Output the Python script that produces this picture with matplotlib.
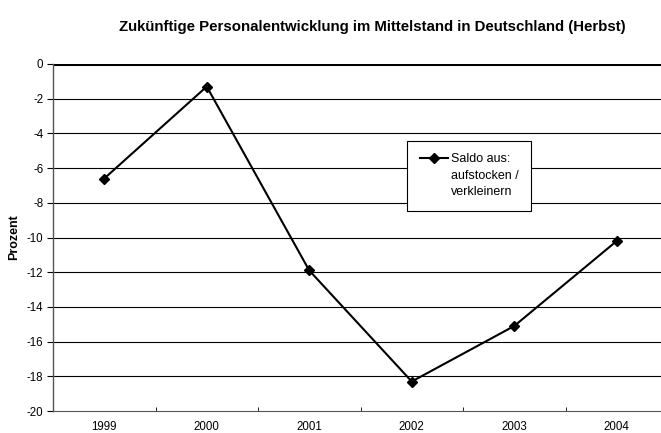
import matplotlib
matplotlib.use("Agg")
import matplotlib.pyplot as plt
from matplotlib.lines import Line2D

plt.rcParams["font.family"] = ["Liberation Sans", "DejaVu Sans"]

years = ["1999", "2000", "2001", "2002", "2003", "2004"]
saldo = [-6.6, -1.3, -11.9, -18.3, -15.1, -10.2]
yticks = list(range(0, -21, -2))
legend_lines = ["Saldo aus:", "aufstocken /", "verkleinern"]

fig = plt.figure(figsize=(6.61, 4.33), dpi=100)
ax = fig.add_axes([53 / 661, 22 / 433, 615 / 661, 347 / 433])

x = list(range(len(years)))
line, = ax.plot(x, saldo, color="black", lw=1.5, marker="D", ms=5, zorder=3)

ax.set_xlim(-0.5, len(years) - 0.5)
ax.set_ylim(-20, 0)
ax.set_yticks(yticks)
ax.set_yticklabels([str(v) for v in yticks])
for v in yticks:
    if v not in (0, -20):
        ax.axhline(v, color="black", lw=0.8, zorder=1)
ax.axhline(0, color="black", lw=2.2, zorder=2)

ax.set_xticks(x)
ax.set_xticklabels(years)
ax.set_xticks([i + 0.5 for i in x[:-1]], minor=True)
ax.tick_params(axis="x", which="major", length=0, pad=7, labelsize=8.3)
ax.tick_params(axis="x", which="minor", direction="in", length=3, color="black")
ax.tick_params(axis="y", direction="out", length=4, labelsize=8.3, pad=3)

for s in ["top", "right"]:
    ax.spines[s].set_visible(False)
ax.spines["left"].set_color("#555555")
ax.spines["bottom"].set_color("#555555")
ax.spines["left"].set_linewidth(1.0)

ax.set_ylabel("Prozent", fontsize=9, fontweight="bold", labelpad=5)

fig.text(0.564, 0.937, "Zukünftige Personalentwicklung im Mittelstand in Deutschland (Herbst)",
         ha="center", va="center", fontsize=10.8, fontweight="bold")

blank = Line2D([], [], color="none")
leg = ax.legend([line, blank, blank], legend_lines, loc="upper left",
                bbox_to_anchor=((407 - 53) / 615, (411 - 141) / 347),
                fontsize=9, frameon=True, fancybox=False, edgecolor="black",
                framealpha=1, handlelength=2.3, borderpad=1.0, handletextpad=0.2,
                labelspacing=0.35, borderaxespad=0)
leg.get_frame().set_linewidth(0.8)

fig.savefig("out.png", dpi=100)
